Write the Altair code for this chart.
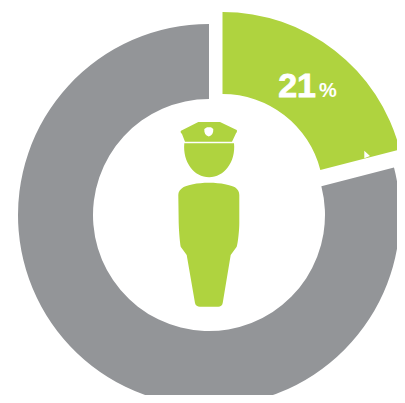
import altair as alt
import pandas as pd

categories = ["Police", "Other"]
values = [21, 79]
ring_colors = ["#afd33f", "#939598"]
percent_sign = ["%"]

GREEN, GRAY = ring_colors
M = 8  # page margin: reference positions below are page positions
CX, CY = 209, 215

CAP = "M-28,-84.3 L-10.7,-93 L11,-93 L27.7,-85 C28.3,-84 28,-83 27,-81.7 L23,-73.3 L-24,-73.3 L-27,-81 C-28.5,-82.5 -28.7,-83.5 -28,-84.3Z"
HEAD = "M-24.7,-71.7 L25,-71.7 C27,-53 15,-37.7 0.2,-37.7 C-15,-37.7 -26.5,-53 -24.7,-71.7Z"
BODY = ("M0,-32.3 C-12,-32.3 -22,-30 -25.7,-27.7 C-29,-25.5 -30.7,-23 -30.7,-20 L-30.3,8 "
        "C-30,18 -29,28 -28.3,31.7 L-22.3,40 L-14,88 C-13.5,90.5 -11.5,91.7 -9,91.7 L9.3,91.7 "
        "C11.5,91.7 13.3,90.5 13.7,88 L21.7,40 L27.7,31.7 C29,28 30.3,15 30.3,8 L30.3,-20 "
        "C30.3,-23 29,-25.5 26,-27.7 C22,-30 12,-32.3 0,-32.3Z")
ICON = CAP + " " + HEAD + " " + BODY
BADGE = ("M-4.7,-86 L-2,-87.7 L2,-87.7 L4.3,-86 C4.5,-82 3,-79.5 -0.2,-78.5 C-3.5,-79.5 -5,-82 -4.7,-86Z "
         "M155.3,-56.7 L155.3,-64.3 L161,-59Z")

df = pd.DataFrame({"category": categories, "value": values, "order": [0, 1]})
base = alt.Chart(df).transform_window(
    end="sum(value)", sort=[alt.SortField("order")]
).transform_calculate(start="datum.end - datum.value")

theta_scale = alt.Scale(domain=[0, 100], range=[0, 6.283185307])


def ring(cat, color, cx, cy, outer, inner):
    return base.transform_filter(alt.datum.category == cat).mark_arc(
        radius=outer, radius2=inner, color=color
    ).encode(
        theta=alt.Theta("start:Q", scale=theta_scale),
        theta2="end:Q",
        x=alt.value(cx - M),
        y=alt.value(cy - M),
    )


def glyph(path, color):
    return alt.Chart(df.head(1)).mark_point(
        shape=path, size=4, filled=True, fill=color, opacity=1, strokeWidth=0
    ).encode(x=alt.value(CX - M), y=alt.value(CY - M))


gray = ring("Other", GRAY, CX, CY, 191, 116)
green = ring("Police", GREEN, 222.5, 195, 183, 101)

label = base.transform_filter(alt.datum.category == "Police").mark_text(
    font="Liberation Sans", fontWeight="bold", fontSize=34, color="white",
    stroke="white", strokeWidth=0.8,
    align="right", baseline="alphabetic"
).encode(x=alt.value(316 - M), y=alt.value(97 - M), text="value:Q")

pct = alt.Chart(pd.DataFrame({"t": percent_sign})).mark_text(
    font="Liberation Sans", fontWeight="bold", fontSize=20, color="white",
    align="left", baseline="alphabetic"
).encode(x=alt.value(319 - M), y=alt.value(97 - M), text="t:N")

chart = alt.layer(
    gray, green, glyph(ICON, GREEN), glyph(BADGE, "white"), label, pct
).properties(
    width=389, height=387, padding=0, autosize=alt.AutoSizeParams(type="none"),
    background="white",
).configure_view(stroke=None)

chart.save("out.html", embed_options={"renderer": "svg", "actions": False})
